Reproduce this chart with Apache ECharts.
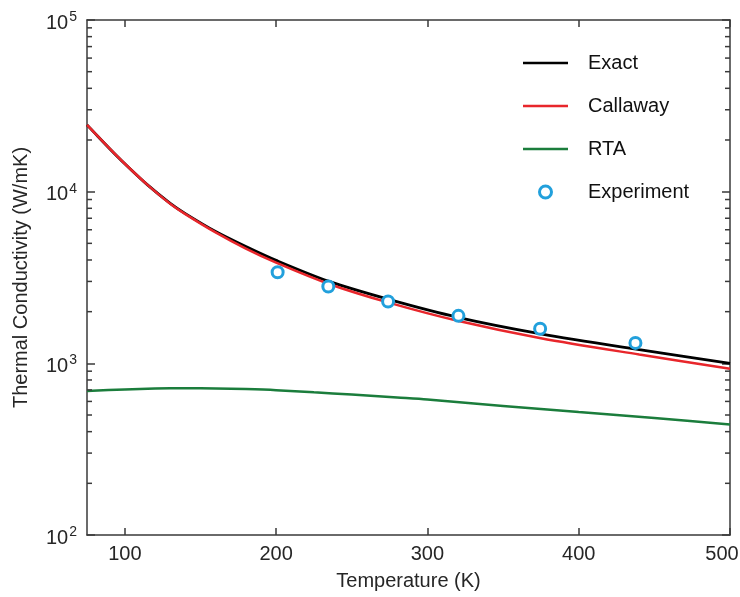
<!DOCTYPE html>
<html>
<head>
<meta charset="utf-8">
<script src="https://cdn.jsdelivr.net/npm/echarts@6/dist/echarts.min.js"></script>
<style>
  html, body { margin: 0; padding: 0; background: #fff; }
  #chart { width: 740px; height: 597px; }
</style>
</head>
<body>
<div id="chart"></div>
<script>
// Temperature grid (K) for the model curves
const temps = [75, 80, 90, 100, 115, 130, 140, 160, 180, 200, 235, 275, 320, 375, 440, 500];
// Thermal conductivity (W/mK) from each model
const exactK    = [24500, 22000, 17800, 14540, 10950, 8550, 7450, 5860, 4790, 3980, 3000, 2350, 1855, 1486, 1202, 1000];
const callawayK = [24500, 22000, 17800, 14540, 10950, 8500, 7400, 5790, 4660, 3860, 2900, 2250, 1770, 1400, 1125, 930];
// RTA curve on its own temperature grid
const rtaTemps = [75, 100, 120, 140, 160, 180, 200, 225, 250, 280, 300, 350, 400, 450, 500];
const rtaK     = [690, 705, 713, 716, 714, 708, 698, 678, 658, 632, 615, 565, 520, 480, 440];
// Measured points
const expTemps = [201, 234.5, 274, 320.5, 374.5, 437.5];
const expK     = [3390, 2800, 2290, 1890, 1590, 1315];

// Axis ranges and tick positions
const xMin = 75, xMax = 500;
const xTicks = [100, 200, 300, 400, 500];
const yMin = 100, yMax = 100000;
// Minor ticks on the log axis: 2..9 within each decade
const minorTickValues = [];
for (let d = yMin; d < yMax; d *= 10) {
  for (let m = 2; m <= 9; m++) minorTickValues.push(m * d);
}

const FONT = 'Liberation Sans, Arial, Helvetica, sans-serif';
const TEXT = '#262626';
const AXIS = '#3a3a3a';
const BLUE = '#22a0dc';
// thin bar used as the legend sample for line series
const LINE_ICON = 'path://M0,0 L45,0 L45,2.6 L0,2.6 Z';

const zip = (xs, ys) => xs.map((x, i) => [x, ys[i]]);

const chart = echarts.init(document.getElementById('chart'), null, { renderer: 'canvas' });

const yLabel = {
  show: true,
  fontFamily: FONT,
  color: TEXT,
  margin: 10,
  formatter: v => '{b|10}{s|' + Math.round(Math.log10(v)) + '}',
  rich: {
    b: { fontSize: 20, fontFamily: FONT, color: TEXT, padding: [6, 0, 0, 0] },
    s: { fontSize: 14, fontFamily: FONT, color: TEXT, padding: [0, 0, 6, 1] }
  }
};

const frameAxis = {
  axisLine: { show: true, onZero: false, lineStyle: { color: AXIS, width: 1.5 } },
  splitLine: { show: false }
};

chart.setOption({
  animation: false,
  backgroundColor: '#fff',
  textStyle: { fontFamily: FONT },
  grid: { left: 87, right: 10, top: 20, bottom: 62, containLabel: false, outerBoundsMode: 'none' },
  legend: {
    orient: 'vertical',
    left: 518,
    top: 48,
    padding: 5,
    itemWidth: 45,
    itemHeight: 12,
    itemGap: 23,
    textStyle: { fontSize: 20, fontFamily: FONT, color: '#111', padding: [0, 0, 0, 15] },
    data: [
      { name: 'Exact', icon: LINE_ICON },
      { name: 'Callaway', icon: LINE_ICON },
      { name: 'RTA', icon: LINE_ICON },
      { name: 'Experiment', icon: 'circle', itemStyle: { color: '#ffffff', borderColor: BLUE, borderWidth: 3 } }
    ]
  },
  xAxis: [
    Object.assign({
      type: 'value', min: xMin, max: xMax,
      name: 'Temperature (K)', nameLocation: 'middle', nameGap: 36,
      nameTextStyle: { fontSize: 20, fontFamily: FONT, color: TEXT },
      axisTick: { show: true, inside: true, length: 7, customValues: xTicks, lineStyle: { color: AXIS, width: 1.5 } },
      axisLabel: {
        fontSize: 20, fontFamily: FONT, color: TEXT, margin: 9, customValues: xTicks,
        // the last label is nudged inward so it stays on the canvas
        formatter: v => (v === xMax ? '{edge|' + v + '}' : String(v)),
        rich: { edge: { fontSize: 20, fontFamily: FONT, color: TEXT, padding: [0, 16, 0, 0] } }
      }
    }, frameAxis),
    Object.assign({
      type: 'value', min: xMin, max: xMax, position: 'top',
      axisTick: { show: true, inside: true, length: 7, customValues: xTicks, lineStyle: { color: AXIS, width: 1.5 } },
      axisLabel: { show: false }
    }, frameAxis)
  ],
  yAxis: [
    Object.assign({
      type: 'log', logBase: 10, min: yMin, max: yMax,
      name: 'Thermal Conductivity (W/mK)', nameLocation: 'middle', nameGap: 56,
      nameTextStyle: { fontSize: 20, fontFamily: FONT, color: TEXT },
      axisTick: { show: true, inside: true, length: 8, lineStyle: { color: AXIS, width: 1.5 } },
      axisLabel: yLabel
    }, frameAxis),
    Object.assign({
      type: 'log', logBase: 10, min: yMin, max: yMax, position: 'right',
      axisTick: { show: true, inside: true, length: 8, lineStyle: { color: AXIS, width: 1.5 } },
      axisLabel: { show: false }
    }, frameAxis)
  ],
  series: [
    {
      name: 'RTA', type: 'line', smooth: 0.3, symbol: 'none', z: 3,
      data: zip(rtaTemps, rtaK),
      lineStyle: { color: '#1b7d3c', width: 2.5 },
      itemStyle: { color: '#1b7d3c' }
    },
    {
      name: 'Exact', type: 'line', smooth: 0.3, symbol: 'none', z: 3,
      data: zip(temps, exactK),
      lineStyle: { color: '#000000', width: 2.8 },
      itemStyle: { color: '#000000' }
    },
    {
      name: 'Callaway', type: 'line', smooth: 0.3, symbol: 'none', z: 4,
      data: zip(temps, callawayK),
      lineStyle: { color: '#e8262b', width: 2.5 },
      itemStyle: { color: '#e8262b' }
    },
    {
      name: 'Experiment', type: 'scatter', symbol: 'circle', symbolSize: 11, z: 5,
      data: zip(expTemps, expK),
      itemStyle: { color: '#ffffff', borderColor: BLUE, borderWidth: 3, opacity: 1 }
    },
    {
      // minor log ticks drawn inward on left and right frame edges
      name: 'minorTicks', type: 'custom', silent: true, clip: false, z: 6,
      data: minorTickValues.map(v => [xMin, v]),
      renderItem: (params, api) => {
        const v = api.value(1);
        const pl = api.coord([xMin, v]);
        const pr = api.coord([xMax, v]);
        const style = { stroke: AXIS, lineWidth: 1.5 };
        return {
          type: 'group',
          children: [
            { type: 'line', shape: { x1: pl[0], y1: pl[1], x2: pl[0] + 5, y2: pl[1] }, style },
            { type: 'line', shape: { x1: pr[0], y1: pr[1], x2: pr[0] - 5, y2: pr[1] }, style }
          ]
        };
      }
    }
  ]
});
</script>
</body>
</html>
